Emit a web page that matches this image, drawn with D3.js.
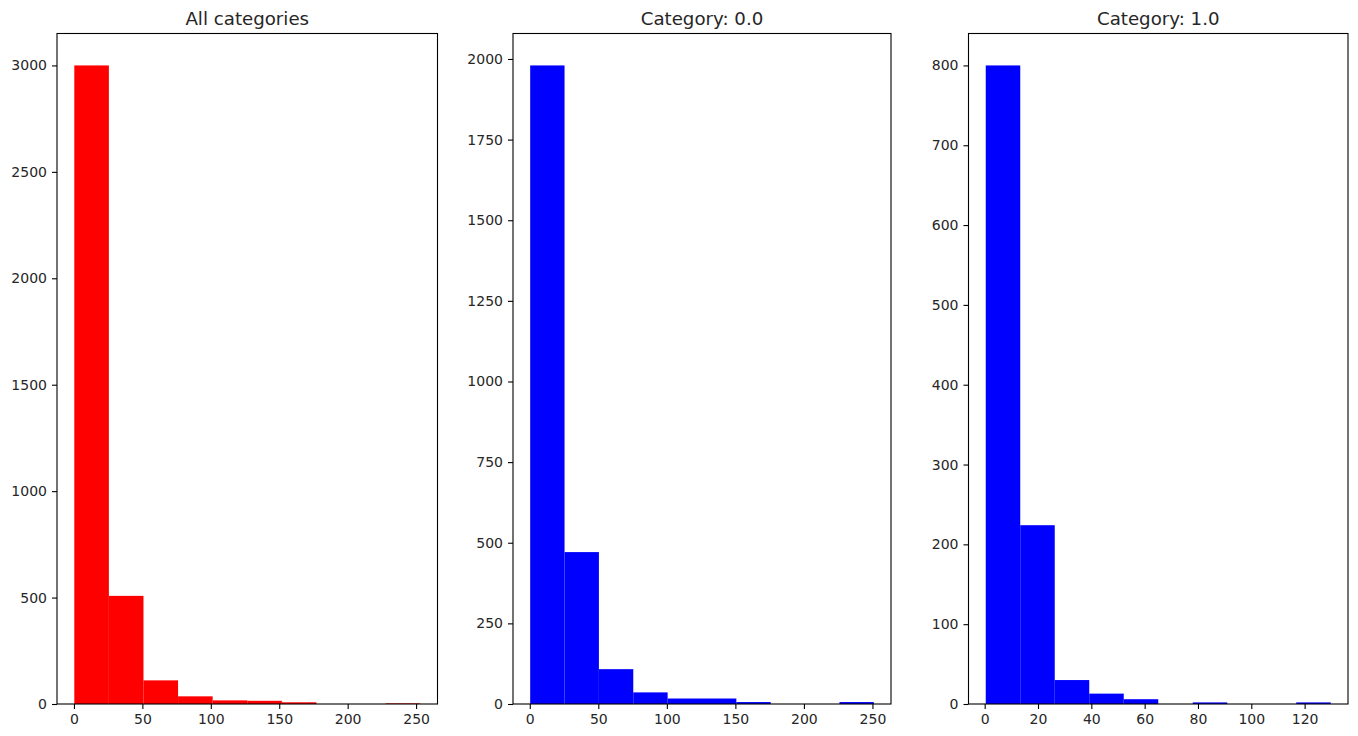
<!DOCTYPE html>
<html>
<head>
<meta charset="utf-8">
<script src="https://cdn.jsdelivr.net/npm/d3@7"></script>
<style>
  html, body { margin: 0; padding: 0; background: #ffffff; }
  svg { display: block; }
  text { font-family: "DejaVu Sans", sans-serif; fill: #262626; }
</style>
</head>
<body>
<svg id="chart" width="1358" height="736"></svg>
<script>
// ---- Data (histogram counts, 10 equal bins between min and max) ----
const panelTitles = ["All categories", "Category: 0.0", "Category: 1.0"];
const panelColors = ["#ff0000", "#0000ff", "#0000ff"];

const allRange = [0.25, 253];
const allCounts = [3000, 508, 111, 36, 17, 15, 8, 0, 0, 3];

const cat0Range = [0.3, 251];
const cat0Counts = [1980, 471, 108, 36, 17, 17, 6, 0, 0, 6];

const cat1Range = [0.4, 129.8];
const cat1Counts = [800, 224, 30, 13, 6, 0, 2, 0, 0, 2];

const allXTicks = [0, 50, 100, 150, 200, 250];
const allYTicks = [0, 500, 1000, 1500, 2000, 2500, 3000];
const cat0XTicks = [0, 50, 100, 150, 200, 250];
const cat0YTicks = [0, 250, 500, 750, 1000, 1250, 1500, 1750, 2000];
const cat1XTicks = [0, 20, 40, 60, 80, 100, 120];
const cat1YTicks = [0, 100, 200, 300, 400, 500, 600, 700, 800];

// ---- Layout ----
const boxes = [
  { left: 57, right: 437.5, top: 33.5, bottom: 704 },
  { left: 513, right: 891, top: 33.5, bottom: 704 },
  { left: 968.5, right: 1348, top: 33.5, bottom: 704 }
];

const svg = d3.select("#chart");

function drawPanel(i, range, counts, xTicks, yTicks) {
  const box = boxes[i];
  const nb = counts.length;
  const w = (range[1] - range[0]) / nb;
  const bins = counts.map((c, k) => ({ x0: range[0] + k * w, x1: range[0] + (k + 1) * w, c }));
  const span = range[1] - range[0];
  const x = d3.scaleLinear()
    .domain([range[0] - 0.05 * span, range[1] + 0.05 * span])
    .range([box.left, box.right]);
  const y = d3.scaleLinear()
    .domain([0, d3.max(counts) * 1.05])
    .range([box.bottom, box.top]);

  const g = svg.append("g");

  g.append("g").selectAll("rect").data(bins).join("rect")
    .attr("x", d => x(d.x0))
    .attr("width", d => x(d.x1) - x(d.x0))
    .attr("y", d => y(d.c))
    .attr("height", d => y(0) - y(d.c))
    .attr("fill", panelColors[i]);

  const xAxis = d3.axisBottom(x).tickValues(xTicks).tickSize(5).tickPadding(5)
    .tickFormat(d3.format("d"));
  const gx = g.append("g").attr("transform", `translate(0,${box.bottom})`).call(xAxis);
  const yAxis = d3.axisLeft(y).tickValues(yTicks).tickSize(5).tickPadding(5)
    .tickFormat(d3.format("d"));
  const gy = g.append("g").attr("transform", `translate(${box.left},0)`).call(yAxis);

  [gx, gy].forEach(a => {
    a.select(".domain").remove();
    a.selectAll(".tick line").attr("stroke", "#000").attr("stroke-width", 1.1);
    a.selectAll(".tick text").style("font-size", "14px").attr("fill", "#262626")
      .style("font-family", "'DejaVu Sans', sans-serif");
  });

  // frame (spines)
  g.append("rect")
    .attr("x", box.left).attr("y", box.top)
    .attr("width", box.right - box.left).attr("height", box.bottom - box.top)
    .attr("fill", "none").attr("stroke", "#000").attr("stroke-width", 1.1);

  g.append("text")
    .attr("x", (box.left + box.right) / 2)
    .attr("y", box.top - 8.5)
    .attr("text-anchor", "middle")
    .style("font-size", "18.2px")
    .text(panelTitles[i]);
}

drawPanel(0, allRange, allCounts, allXTicks, allYTicks);
drawPanel(1, cat0Range, cat0Counts, cat0XTicks, cat0YTicks);
drawPanel(2, cat1Range, cat1Counts, cat1XTicks, cat1YTicks);
</script>
</body>
</html>
